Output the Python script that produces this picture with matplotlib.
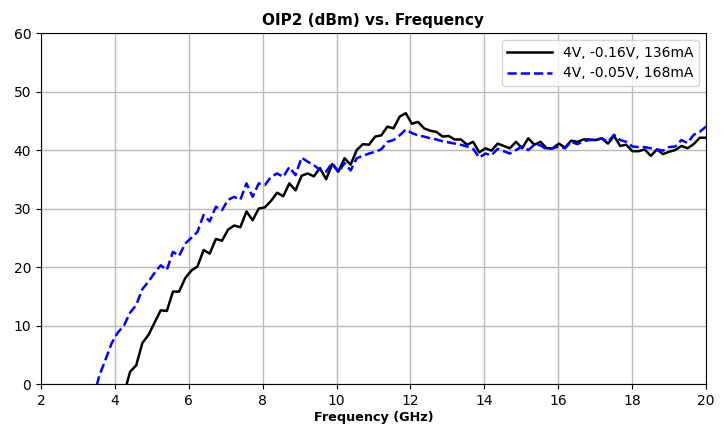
import matplotlib
matplotlib.use("Agg")
import matplotlib.pyplot as plt
import numpy as np

# frequency grid (GHz), 0.1..20 GHz sweep, only the visible part is kept
freq = np.linspace(0.1, 20, 121)[20:]

# OIP2 (dBm), 4V, -0.16V, 136mA
oip2_a = [
    np.nan, np.nan, np.nan, np.nan, np.nan,
    -1.7, 2.1, 3.2, 7.0, 8.4, 10.5, 12.6, 12.5, 15.8, 15.8,
    18.1, 19.4, 20.1, 22.9, 22.3, 24.8, 24.5, 26.4, 27.1, 26.8,
    29.5, 28.0, 30.0, 30.2, 31.3, 32.7, 32.1, 34.3, 33.1, 35.6,
    36.0, 35.5, 36.9, 35.0, 37.6, 36.3, 38.6, 37.5, 40.0, 41.0,
    40.9, 42.3, 42.5, 44.0, 43.7, 45.7, 46.3, 44.5, 44.8, 43.7,
    43.3, 43.1, 42.3, 42.4, 41.8, 41.8, 40.9, 41.4, 39.6, 40.3,
    39.9, 41.1, 40.7, 40.3, 41.4, 40.3, 42.0, 40.9, 41.4, 40.3,
    40.3, 41.1, 40.4, 41.6, 41.4, 41.8, 41.8, 41.7, 42.0, 41.1,
    42.4, 40.7, 40.9, 39.8, 39.8, 40.1, 39.0, 40.1, 39.3, 39.7,
    40.0, 40.7, 40.3, 41.0, 42.1, 42.1,
]

# OIP2 (dBm), 4V, -0.05V, 168mA
oip2_b = [
    -2.4, 1.5, 4.2, 7.0, 8.8,
    10.0, 12.2, 13.5, 16.2, 17.5, 19.0, 20.3, 19.5, 22.6, 21.9,
    24.0, 25.0, 26.0, 28.9, 27.8, 30.3, 29.7, 31.5, 32.0, 31.5,
    34.3, 32.0, 34.3, 34.0, 35.4, 36.0, 35.4, 37.1, 35.7, 38.7,
    38.0, 37.4, 36.6, 36.3, 37.8, 36.2, 37.8, 36.5, 38.6, 39.0,
    39.4, 39.7, 40.1, 41.4, 41.7, 42.5, 43.5, 42.9, 42.5, 42.3,
    42.0, 41.8, 41.5, 41.3, 41.1, 40.9, 40.6, 40.2, 38.7, 39.4,
    39.1, 40.2, 39.8, 39.4, 40.0, 40.6, 40.0, 40.9, 40.8, 40.1,
    40.3, 40.6, 40.3, 41.4, 41.0, 41.5, 41.7, 41.7, 42.0, 41.4,
    42.6, 41.7, 41.4, 40.6, 40.5, 40.5, 40.3, 40.1, 39.9, 40.5,
    40.6, 41.7, 41.2, 42.6, 43.1, 44.0,
]

labels = ["4V, -0.16V, 136mA", "4V, -0.05V, 168mA"]

fig = plt.figure(figsize=(7.27, 4.32), dpi=100)
ax = fig.add_axes([0.0564, 0.111, 0.9146, 0.8126])

ax.plot(freq, oip2_a, color="black", lw=1.8, label=labels[0])
ax.plot(freq, oip2_b, color="blue", lw=1.8, ls="--", label=labels[1])

ax.set_xlim(2, 20)
ax.set_ylim(0, 60)
ax.set_xticks(np.arange(2, 21, 2))
ax.set_yticks(np.arange(0, 61, 10))
ax.tick_params(labelsize=10)
ax.grid(True, color="#b8b8b8", lw=1)
ax.set_title("OIP2 (dBm) vs. Frequency", fontsize=11, fontweight="bold")
ax.set_xlabel("Frequency (GHz)", fontsize=9.2, fontweight="bold", labelpad=2)
ax.legend(loc="upper right", fontsize=10, handlelength=3.2)

fig.savefig("out.png", dpi=100)
